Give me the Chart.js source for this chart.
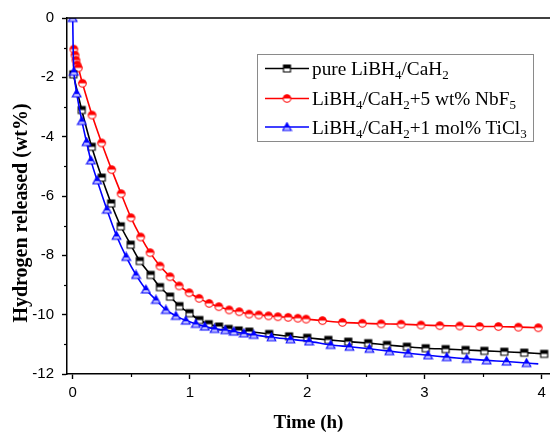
<!DOCTYPE html>
<html>
<head>
<meta charset="utf-8">
<script src="https://cdn.jsdelivr.net/npm/chart.js@4/dist/chart.umd.min.js"></script>
<style>
  html, body { margin: 0; padding: 0; background: #fff; }
  #wrap { position: relative; width: 550px; height: 433px; overflow: hidden; }
  #c { position: absolute; left: 0; top: 0; }
  .lg { position: absolute; left: 312px; font-family: "Liberation Serif", "Times New Roman", serif; font-size: 19.3px; line-height: 19px; color: #000; white-space: nowrap; }
  .lg sub { font-size: 13px; vertical-align: -4px; line-height: 0; }
</style>
</head>
<body>
<div id="wrap">
  <canvas id="c" width="550" height="433"></canvas>
  <div class="lg" style="top:59px">pure LiBH<sub>4</sub>/CaH<sub>2</sub></div>
  <div class="lg" style="top:89px">LiBH<sub>4</sub>/CaH<sub>2</sub>+5 wt% NbF<sub>5</sub></div>
  <div class="lg" style="top:117.5px">LiBH<sub>4</sub>/CaH<sub>2</sub>+1 mol% TiCl<sub>3</sub></div>
</div>
<script>
// ---- data (time in h, hydrogen released in wt%) ----
const seriesNames = ['pure LiBH4/CaH2', 'LiBH4/CaH2+5 wt% NbF5', 'LiBH4/CaH2+1 mol% TiCl3'];

const pureTime = [0.005, 0.077, 0.162, 0.248, 0.328, 0.41, 0.494, 0.572, 0.665, 0.744, 0.83, 0.91, 0.996, 1.08, 1.16, 1.248, 1.33, 1.415, 1.505, 1.675, 1.845, 2.0, 2.18, 2.35, 2.52, 2.68, 2.85, 3.01, 3.18, 3.35, 3.51, 3.68, 3.85, 4.02];
const pureH    = [-1.9, -3.10, -4.34, -5.38, -6.25, -7.02, -7.64, -8.19, -8.66, -9.07, -9.39, -9.71, -9.95, -10.18, -10.32, -10.40, -10.48, -10.53, -10.57, -10.65, -10.73, -10.78, -10.85, -10.91, -10.96, -11.02, -11.08, -11.13, -11.16, -11.19, -11.22, -11.25, -11.28, -11.32];

const nbTime = [0.01, 0.02, 0.028, 0.037, 0.048, 0.083, 0.165, 0.247, 0.332, 0.413, 0.497, 0.58, 0.66, 0.744, 0.83, 0.908, 0.993, 1.078, 1.163, 1.246, 1.334, 1.42, 1.504, 1.587, 1.67, 1.75, 1.837, 1.92, 1.99, 2.13, 2.3, 2.47, 2.63, 2.8, 2.97, 3.13, 3.3, 3.47, 3.63, 3.8, 3.97];
const nbH    = [-1.05, -1.25, -1.42, -1.58, -1.68, -2.2, -3.27, -4.21, -5.11, -5.92, -6.73, -7.38, -7.91, -8.36, -8.72, -9.03, -9.26, -9.45, -9.62, -9.73, -9.84, -9.90, -9.98, -10.01, -10.04, -10.07, -10.09, -10.12, -10.15, -10.20, -10.26, -10.29, -10.31, -10.32, -10.35, -10.37, -10.38, -10.40, -10.40, -10.42, -10.44];

const tiTime = [0, 0.01, 0.034, 0.078, 0.118, 0.155, 0.208, 0.292, 0.374, 0.456, 0.54, 0.624, 0.71, 0.795, 0.88, 0.965, 1.05, 1.127, 1.21, 1.3, 1.374, 1.46, 1.544, 1.695, 1.857, 2.015, 2.2, 2.36, 2.53, 2.7, 2.86, 3.03, 3.19, 3.36, 3.53, 3.7, 3.87, 3.97];
const tiH    = [0, -1.81, -2.54, -3.47, -4.18, -4.80, -5.47, -6.46, -7.34, -8.05, -8.66, -9.15, -9.50, -9.84, -10.04, -10.20, -10.31, -10.40, -10.48, -10.52, -10.57, -10.63, -10.68, -10.76, -10.83, -10.90, -11.02, -11.08, -11.15, -11.23, -11.30, -11.37, -11.43, -11.49, -11.54, -11.58, -11.63, -11.66];

const xTickMajor = [0, 1, 2, 3, 4];
const yTickMajor = [0, -2, -4, -6, -8, -10, -12];

function toPts(xs, ys) { return xs.map((x, i) => ({ x: x, y: ys[i] })); }

// ---- half-filled Origin-style markers ----
function makeMarker(shape, color, lower) {
  const s = 11, c = document.createElement('canvas');
  c.width = s; c.height = s;
  const g = c.getContext('2d');
  function path() {
    g.beginPath();
    if (shape === 'square') { g.rect(2, 2, 7, 7); }
    else if (shape === 'circle') { g.arc(5.5, 5.5, 3.8, 0, Math.PI * 2); }
    else { g.moveTo(5.5, 1.2); g.lineTo(9.8, 9); g.lineTo(1.2, 9); g.closePath(); }
  }
  g.save(); path(); g.clip();
  g.fillStyle = lower; g.fillRect(0, 0, s, s);
  g.fillStyle = color; g.fillRect(0, 0, s, shape === 'triangle' ? 6.2 : 5.5);
  g.restore();
  path(); g.strokeStyle = color; g.lineWidth = 1.1; g.stroke();
  return c;
}
const mkBlack = makeMarker('square', '#000000', '#ffffff');
const mkRed = makeMarker('circle', '#ff0000', '#ffffff');
const mkBlue = makeMarker('triangle', '#0000ff', '#c8c8ff');

// ---- plugin: minor ticks, top frame, legend box, y title ----
const extras = {
  id: 'extras',
  afterDraw(chart) {
    const ctx = chart.ctx, a = chart.chartArea;
    const xs = chart.scales.x, ys = chart.scales.y;
    ctx.save();
    ctx.strokeStyle = '#000'; ctx.lineWidth = 1.5;
    // top frame
    ctx.beginPath(); ctx.moveTo(a.left, a.top); ctx.lineTo(a.right, a.top); ctx.stroke();
    // minor ticks
    ctx.lineWidth = 1.2;
    [0.5, 1.5, 2.5, 3.5].forEach(v => {
      const p = Math.round(xs.getPixelForValue(v)) + 0.5;
      ctx.beginPath(); ctx.moveTo(p, a.bottom); ctx.lineTo(p, a.bottom + 3); ctx.stroke();
    });
    [-1, -3, -5, -7, -9, -11].forEach(v => {
      const p = Math.round(ys.getPixelForValue(v)) + 0.5;
      ctx.beginPath(); ctx.moveTo(a.left, p); ctx.lineTo(a.left - 3, p); ctx.stroke();
    });
    // legend box
    ctx.strokeStyle = '#8a8a8a'; ctx.lineWidth = 1;
    ctx.strokeRect(257.5, 54.5, 276, 87);
    const rows = [[68.5, '#000000', mkBlack], [98.5, '#ff0000', mkRed], [127, '#0000ff', mkBlue]];
    rows.forEach(r => {
      ctx.strokeStyle = r[1]; ctx.lineWidth = 1.6;
      ctx.beginPath(); ctx.moveTo(265, r[0]); ctx.lineTo(309, r[0]); ctx.stroke();
      ctx.drawImage(r[2], 287 - r[2].width / 2, r[0] - r[2].height / 2);
    });
    // y-axis title
    ctx.fillStyle = '#000';
    ctx.font = 'bold 20px "Liberation Serif", "Times New Roman", serif';
    ctx.textAlign = 'center'; ctx.textBaseline = 'middle';
    ctx.translate(21.5, 213); ctx.rotate(-Math.PI / 2);
    ctx.fillText('Hydrogen released (wt%)', 0, 0);
    ctx.restore();
  }
};

const lastTi = tiTime.length - 1;

function noPad(s) { s.paddingLeft = 0; s.paddingRight = 0; s.paddingTop = 0; s.paddingBottom = 0; }

new Chart(document.getElementById('c'), {
  type: 'line',
  data: {
    datasets: [
      { label: seriesNames[0], data: toPts(pureTime, pureH), borderColor: '#000000', borderWidth: 1.6,
        pointStyle: mkBlack, pointRadius: 4, tension: 0.3, order: 1 },
      { label: seriesNames[1], data: toPts(nbTime, nbH), borderColor: '#ff0000', borderWidth: 1.6,
        pointStyle: mkRed, pointRadius: 4, tension: 0.3, order: 2 },
      { label: seriesNames[2], data: toPts(tiTime, tiH), borderColor: '#0000ff', borderWidth: 1.6,
        pointStyle: mkBlue, pointRadius: c => (c.dataIndex === lastTi ? 0 : 4), tension: 0.3, order: 0 }
    ]
  },
  options: {
    responsive: false,
    animation: false,
    devicePixelRatio: 1,
    layout: { autoPadding: false, padding: { top: 18, right: 0, left: 0, bottom: 0 } },
    plugins: { legend: { display: false }, tooltip: { enabled: false } },
    scales: {
      x: {
        type: 'linear', min: -0.0486, max: 4.07,
        afterFit: s => { s.height = 59; noPad(s); },
        grid: { drawOnChartArea: false, drawTicks: true, tickLength: 5, tickColor: '#000', tickWidth: 1.4 },
        border: { color: '#000', width: 1.5 },
        afterBuildTicks: s => { s.ticks = xTickMajor.map(v => ({ value: v })); },
        ticks: { includeBounds: false, padding: 5, color: '#000', font: { family: '"Liberation Sans", Arial, sans-serif', size: 15 }, maxRotation: 0 },
        title: { display: true, text: 'Time (h)', color: '#000', padding: { top: 0, bottom: 0 },
                 font: { family: '"Liberation Serif", "Times New Roman", serif', size: 19, weight: 'bold', lineHeight: 1.0 } }
      },
      y: {
        type: 'linear', min: -12, max: 0,
        afterFit: s => { s.width = 67; noPad(s); },
        grid: { drawOnChartArea: false, drawTicks: true, tickLength: 5, tickColor: '#000', tickWidth: 1.4 },
        border: { color: '#000', width: 1.5 },
        afterBuildTicks: s => { s.ticks = yTickMajor.map(v => ({ value: v })); },
        ticks: { includeBounds: false, padding: 8, color: '#000', font: { family: '"Liberation Sans", Arial, sans-serif', size: 15 } }
      }
    }
  },
  plugins: [extras]
});
</script>
</body>
</html>
